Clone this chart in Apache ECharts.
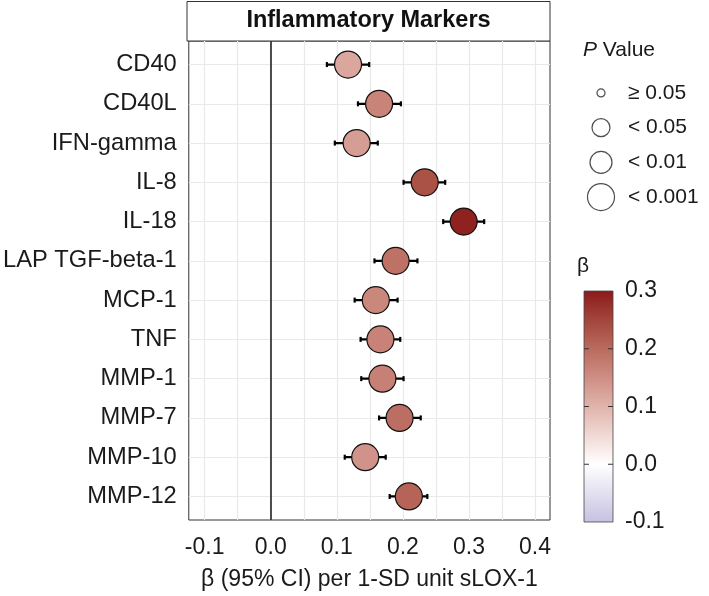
<!DOCTYPE html>
<html><head><meta charset="utf-8">
<script src="https://cdn.jsdelivr.net/npm/echarts@6/dist/echarts.min.js"></script>
<style>html,body{margin:0;padding:0;background:#fff}#c{width:709px;height:596px}</style>
</head><body><div id="c"></div>
<script>
// ---- data ----
const markers = ['CD40','CD40L','IFN-gamma','IL-8','IL-18','LAP TGF-beta-1','MCP-1','TNF','MMP-1','MMP-7','MMP-10','MMP-12'];
const beta   = [0.117,0.164,0.130,0.233,0.292,0.189,0.159,0.166,0.169,0.195,0.143,0.209];
const ciLow  = [0.085,0.132,0.097,0.201,0.261,0.157,0.127,0.136,0.137,0.164,0.112,0.180];
const ciHigh = [0.149,0.197,0.162,0.264,0.323,0.222,0.192,0.196,0.201,0.227,0.174,0.237];
const pGroup = ['< 0.001','< 0.001','< 0.001','< 0.001','< 0.001','< 0.001','< 0.001','< 0.001','< 0.001','< 0.001','< 0.001','< 0.001'];
const xTicks = [-0.1, 0.0, 0.1, 0.2, 0.3, 0.4];
const xMinorTicks = [-0.05, 0.05, 0.15, 0.25, 0.35];
const pLevels = ['≥ 0.05','< 0.05','< 0.01','< 0.001'];
const betaTicks = [-0.1, 0.0, 0.1, 0.2, 0.3];
const betaInnerTicks = [0.0, 0.1, 0.2];

// ---- styles ----
const FONT = '"Liberation Sans", Arial, sans-serif';
const TXT = '#1a1a1a';
const pSizes = {'≥ 0.05': 8, '< 0.05': 18, '< 0.01': 22, '< 0.001': 27};
const gradColors = ['#c5c1e2','#e2e0f0','#ffffff','#f1d9d4','#e0b3ab','#ce8e84','#ba6a5e','#a3453b','#8b1a1a'];
const rowIdx = markers.map((_, i) => i);
const betaMin = betaTicks[0], betaMax = betaTicks[betaTicks.length - 1];

const chart = echarts.init(document.getElementById('c'), null, {renderer: 'canvas'});

const gridLineData = []
  .concat(xTicks.map(v => ({xAxis: v})))
  .concat(xMinorTicks.map(v => ({xAxis: v})))
  .concat(rowIdx.map(i => ({yAxis: i})));
gridLineData.push({xAxis: 0, lineStyle: {color: '#222', width: 1.6}});

const option = {
  animation: false,
  textStyle: {fontFamily: FONT, color: TXT},
  title: [
    {text: 'Inflammatory Markers', left: 368.5, top: 9, textAlign: 'center', padding: 0,
     textStyle: {fontSize: 23.5, fontWeight: 'bold', color: '#111', fontFamily: FONT}},
    {text: '{i|P} Value', left: 583, top: 40, padding: 0,
     textStyle: {fontSize: 21, color: TXT, fontFamily: FONT, fontWeight: 'normal',
       rich: {i: {fontStyle: 'italic', fontSize: 21, color: TXT, fontFamily: FONT}}}},
    {text: 'β', left: 577, top: 256, padding: 0,
     textStyle: {fontSize: 21, color: TXT, fontFamily: FONT, fontWeight: 'normal'}}
  ],
  graphic: [
    {type: 'rect', z: 0, shape: {x: 187, y: 1.5, width: 363, height: 39.5},
     style: {fill: '#fff', stroke: '#333', lineWidth: 1}}
  ],
  grid: [
    {left: 187, top: 41, width: 363, height: 479, show: true, backgroundColor: '#fff',
     borderColor: '#333', borderWidth: 1},
    {left: 584, top: 291, width: 29, height: 231, show: false},
    {left: 588, top: 75.6, width: 26, height: 138.8, show: false}
  ],
  xAxis: [
    {gridIndex: 0, type: 'value', min: -0.124, max: 0.4226,
     axisLine: {show: false},
     axisTick: {show: true, customValues: xTicks, length: 5, lineStyle: {color: '#333', width: 1}},
     axisLabel: {customValues: xTicks, formatter: v => v.toFixed(1), fontSize: 23, margin: 16, color: TXT, fontFamily: FONT},
     splitLine: {show: false},
     name: 'β (95% CI) per 1-SD unit sLOX-1', nameLocation: 'middle', nameGap: 48,
     nameTextStyle: {fontSize: 23, color: TXT, fontFamily: FONT}},
    {gridIndex: 1, type: 'value', min: 0, max: 1, show: false},
    {gridIndex: 2, type: 'value', min: 0, max: 1, show: false}
  ],
  yAxis: [
    {gridIndex: 0, type: 'value', min: -0.6, max: 11.6, inverse: true,
     axisLine: {show: false},
     axisTick: {show: true, customValues: rowIdx, length: 5, lineStyle: {color: '#333', width: 1}},
     axisLabel: {customValues: rowIdx, formatter: v => markers[Math.round(v)], fontSize: 23.7, margin: 12, color: TXT, fontFamily: FONT},
     splitLine: {show: false}},
    {gridIndex: 1, type: 'value', min: betaMin, max: betaMax, position: 'right',
     axisLine: {show: false},
     axisTick: {show: false},
     axisLabel: {customValues: betaTicks, formatter: v => v.toFixed(1), fontSize: 23, margin: 12, color: TXT, fontFamily: FONT},
     splitLine: {show: false}},
    {gridIndex: 2, type: 'category', data: pLevels, inverse: true, position: 'right',
     axisLine: {show: false}, axisTick: {show: false},
     axisLabel: {fontSize: 21, margin: 14, color: TXT, fontFamily: FONT}}
  ],
  visualMap: [{
    type: 'continuous', min: betaMin, max: betaMax, seriesIndex: 2, dimension: 0,
    show: false, inRange: {color: gradColors}
  }],
  series: [
    {type: 'scatter', xAxisIndex: 0, yAxisIndex: 0, z: 1, silent: true,
     data: [[0, 0]], symbolSize: 0,
     markLine: {silent: true, z: 1, symbol: ['none', 'none'], label: {show: false},
       lineStyle: {color: '#e9e9e9', width: 1.2, type: 'solid'}, data: gridLineData}},
    {type: 'custom', xAxisIndex: 0, yAxisIndex: 0, z: 2, silent: true,
     data: rowIdx.map(i => [ciLow[i], ciHigh[i], i]),
     encode: {x: [0, 1], y: 2},
     renderItem: (params, api) => {
       const a = api.coord([api.value(0), api.value(2)]);
       const b = api.coord([api.value(1), api.value(2)]);
       const h = 2.5;
       const st = {stroke: '#000', lineWidth: 2.2, fill: null, opacity: 1};
       return {type: 'group', children: [
         {type: 'line', shape: {x1: a[0], y1: a[1], x2: b[0], y2: b[1]}, style: st},
         {type: 'line', shape: {x1: a[0], y1: a[1] - h, x2: a[0], y2: a[1] + h}, style: st},
         {type: 'line', shape: {x1: b[0], y1: b[1] - h, x2: b[0], y2: b[1] + h}, style: st}
       ]};
     }},
    {type: 'scatter', xAxisIndex: 0, yAxisIndex: 0, z: 3,
     data: rowIdx.map(i => [beta[i], i, pGroup[i]]),
     symbolSize: v => pSizes[v[2]],
     itemStyle: {borderColor: '#111', borderWidth: 1.2, opacity: 1}},
    {type: 'scatter', xAxisIndex: 2, yAxisIndex: 2, z: 3,
     data: pLevels.map(l => [0.5, l]),
     symbolSize: v => pSizes[v[1]],
     itemStyle: {color: '#fff', borderColor: '#222', borderWidth: 1.2}},
    {type: 'custom', xAxisIndex: 1, yAxisIndex: 1, z: 2, silent: true,
     data: [[0, 1, betaMin, betaMax]],
     renderItem: (params, api) => {
       const tl = api.coord([api.value(0), api.value(3)]);
       const br = api.coord([api.value(1), api.value(2)]);
       const n = gradColors.length;
       const stops = gradColors.map((c, k) => ({offset: 1 - k / (n - 1), color: c}));
       const children = [
         {type: 'rect', shape: {x: tl[0], y: tl[1], width: br[0] - tl[0], height: br[1] - tl[1]},
          style: {fill: new echarts.graphic.LinearGradient(0, 0, 0, 1, stops.slice().reverse()), stroke: '#444', lineWidth: 0.8}}
       ];
       betaInnerTicks.forEach(t => {
         const p = api.coord([0, t]);
         children.push({type: 'line', shape: {x1: tl[0], y1: p[1], x2: tl[0] + 5, y2: p[1]}, style: {stroke: '#333', lineWidth: 1}});
         children.push({type: 'line', shape: {x1: br[0] - 5, y1: p[1], x2: br[0], y2: p[1]}, style: {stroke: '#333', lineWidth: 1}});
       });
       return {type: 'group', children};
     }}
  ]
};
chart.setOption(option);
</script>
</body></html>
